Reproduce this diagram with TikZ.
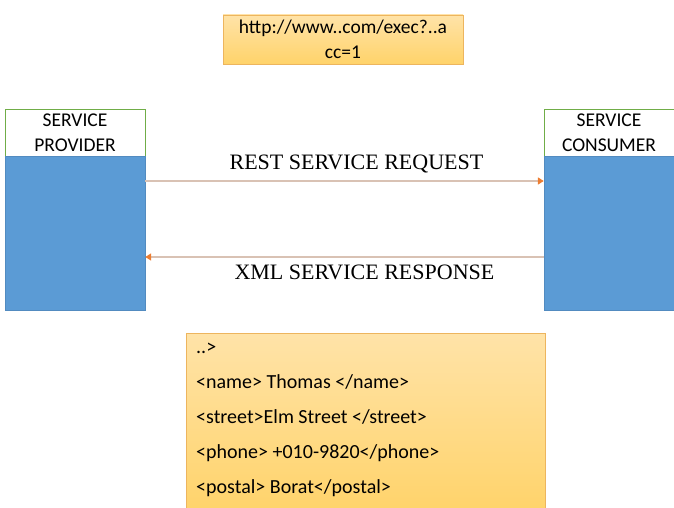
\documentclass[tikz,border=0pt]{standalone}
\usepackage{fontspec}
\setmainfont{Carlito}
\newfontfamily\timesfont{Liberation Serif}
\usetikzlibrary{positioning, arrows.meta}

\definecolor{svcblue}{HTML}{5B9BD5}
\definecolor{hdrgreen}{HTML}{70AD47}
\definecolor{noteedge}{HTML}{EDB55E}
\definecolor{notetop}{HTML}{FFE3A8}
\definecolor{notebottom}{HTML}{FFD36A}
\definecolor{msgline}{HTML}{D9C2B4}
\definecolor{tiporange}{HTML}{ED7D31}

\begin{document}
\begin{tikzpicture}[
        ->,
        >={Triangle[color=tiporange, length=6pt, width=7pt]},
        x=1pt,
        y=-1pt,
        every node/.style={font=\fontsize{19.5}{25}\selectfont},
        header/.style={draw=hdrgreen, fill=white, minimum height=47pt, inner sep=0pt, align=center},
        body/.style={draw=svcblue!90!black, fill=svcblue, minimum height=154pt, inner sep=0pt},
        note/.style={draw=noteedge, top color=notetop, bottom color=notebottom, inner sep=0pt},
        message/.style={draw=msgline, line width=1.5pt},
        msglabel/.style={font=\timesfont\fontsize{22}{26}\selectfont}
    ]
    \useasboundingbox (0,0) rectangle (674,508);

    \node[note, minimum width=240pt, minimum height=49pt, align=center] (url) at (343,39.5)
        {http://www..com/exec?..a\\cc=1};

    \node[header, minimum width=140pt] (phead) at (75,132.5) {SERVICE\\PROVIDER};
    \node[body, minimum width=140pt] (pbody) at (75,233) {};
    \node[header, minimum width=130pt] (chead) at (609,132.5) {SERVICE\\CONSUMER};
    \node[body, minimum width=130pt] (cbody) at (609,233) {};

    \coordinate (reqy) at (0,181);
    \coordinate (resy) at (0,257);
    \draw[message] (pbody.east |- reqy) -- node[msglabel, above=4pt, pos=0.53] {REST SERVICE REQUEST} (cbody.west |- reqy);
    \draw[message] (cbody.west |- resy) -- node[msglabel, below=4pt, pos=0.45] {XML SERVICE RESPONSE} (pbody.east |- resy);

    \node[note, minimum width=359pt, minimum height=180pt, anchor=north west] (xml) at (186,333) {};
    \node[anchor=north west, align=left, inner sep=0pt, font=\fontsize{20}{35}\selectfont] (xmllines) at (196,343)
        {..>\\
         <name> Thomas </name>\\
         <street>Elm Street </street>\\
         <phone> +010-9820</phone>\\
         <postal> Borat</postal>};
\end{tikzpicture}
\end{document}
